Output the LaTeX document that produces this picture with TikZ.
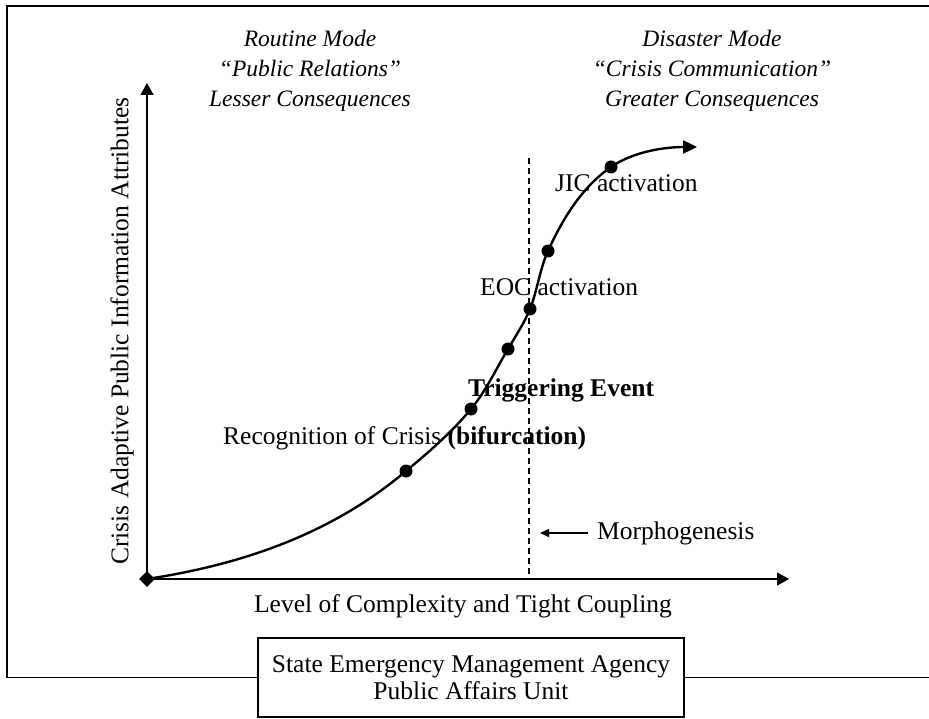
\documentclass[tikz,border=0pt]{standalone}
\usepackage{fontspec}
\setmainfont{Liberation Serif}
\usetikzlibrary{arrows.meta,positioning,shapes.geometric}

\begin{document}
\begin{tikzpicture}[x=1pt,y=-1pt,
    txt/.style={inner sep=0pt,font=\fontsize{25.5}{30}\selectfont},
    mode/.style={inner sep=0pt,align=center,font=\fontsize{23.5}{30}\selectfont\itshape},
    axis/.style={line width=1.5pt,-{Triangle[length=12pt,width=13pt]}},
    dot/.style={circle,fill=black,inner sep=0pt,minimum size=13pt}]
    \useasboundingbox (0,0) rectangle (929,719);

    \node[draw, line width=1.2pt, minimum width=426pt, minimum height=79pt, align=center, font=\fontsize{25.5}{27}\selectfont]
        (unit) at (471,677.5) {State Emergency Management Agency\\Public Affairs Unit};
    \draw[line width=1.5pt] (unit.west) -- (7,677.5) -- (7,6) -- (929,6);
    \draw[line width=1.5pt] (unit.east) -- (929,677.5);

    \node[mode] (routine) at (310,71)
        {Routine Mode\\“Public Relations”\\Lesser Consequences};
    \node[mode] (disaster) at (712,71)
        {Disaster Mode\\“Crisis Communication”\\Greater Consequences};

    \node[diamond, fill=black, minimum size=16pt, inner sep=0pt] (o) at (147,579) {};
    \coordinate (ytip) at (147,83);
    \coordinate (xtip) at (789,579);
    \draw[axis] (o.center) -- (ytip);
    \draw[axis] (o.center) -- (xtip);

    \node[txt, rotate=90] (ylab) at (122,331) {Crisis Adaptive Public Information Attributes};
    \node[txt] (xlab) at (463,606) {Level of Complexity and Tight Coupling};

    \coordinate (dtop) at (529,158);
    \coordinate (dbot) at (529,579);
    \draw[line width=2pt, dash pattern=on 6pt off 4pt] (dtop) -- (dbot);

    \coordinate (c1) at (406,471);
    \coordinate (c2) at (471,409);
    \coordinate (c3) at (508,349);
    \coordinate (c4) at (530,309);
    \coordinate (c5) at (548,251);
    \coordinate (c6) at (611,167);
    \coordinate (tip) at (697,147);
    \draw[line width=2.4pt, -{Triangle[length=14pt,width=13pt]}]
        (o.center) .. controls (246,564) and (334,532) .. (c1)
        .. controls (429,452) and (452,432) .. (c2)
        .. controls (486,391) and (496,369) .. (c3)
        .. controls (515.5,336) and (524.4,323) .. (c4)
        .. controls (537.4,290.4) and (539.7,269.2) .. (c5)
        .. controls (562.5,219) and (582,187) .. (c6)
        .. controls (635,150.4) and (668,147) .. (tip);
    \foreach \c in {1,...,6}
        \node[dot] (d\c) at (c\c) {};

    \node[txt, anchor=west] (jic) at (555,183) {JIC activation};
    \node[txt, anchor=west] (eoc) at (480,287) {EOC activation};
    \node[txt, anchor=west] (trig) at (468,390) {\textbf{Triggering Event}};
    \node[txt, anchor=west] (recog) at (223,438) {Recognition of Crisis \textbf{(bifurcation)}};

    \node[txt, anchor=west] (morph) at (597,533) {Morphogenesis};
    \coordinate (mtip) at (540,533);
    \draw[line width=1.2pt, -{Triangle[length=9pt,width=8pt]}] ([xshift=-9pt]morph.west) -- (mtip);
\end{tikzpicture}
\end{document}
